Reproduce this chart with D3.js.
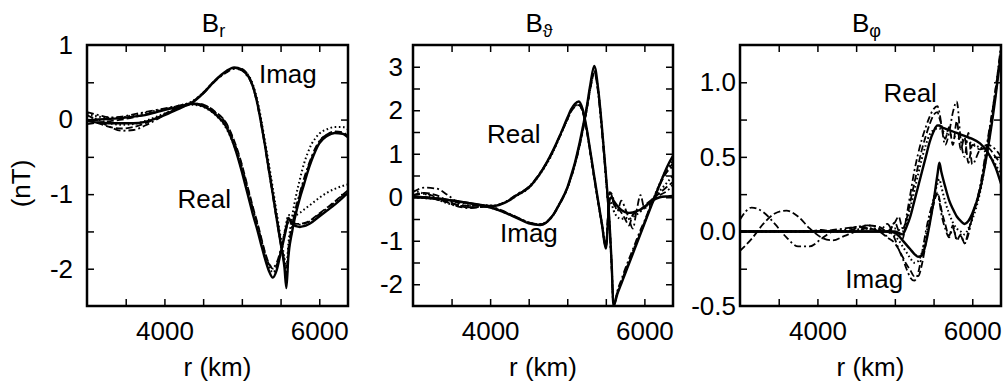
<!DOCTYPE html>
<html lang="en">
<head>
<meta charset="UTF-8">
<title>B components vs r</title>
<script src="https://d3js.org/d3.v7.min.js"></script>
<style>
  body { margin: 0; background: #fff; }
  svg text { font-family: "Liberation Sans", Arial, Helvetica, sans-serif; fill: #000; }
  .frame { fill: none; stroke: #000; stroke-width: 2.5px; }
  .curve { fill: none; stroke: #000; stroke-linejoin: round; }
  .tick line { stroke: #000; stroke-width: 1.5px; }
</style>
</head>
<body>
<div id="chart"></div>
<script>
// radius grid (km), shared by every curve
const rKm = [3000, 3150, 3300, 3450, 3600, 3750, 3900, 4050, 4200, 4350,
             4500, 4650, 4800, 4900, 5000, 5050, 5100, 5150, 5200, 5250,
             5300, 5350, 5400, 5450, 5500, 5550, 5575, 5600, 5650, 5700,
             5750, 5800, 5850, 5900, 5950, 6000, 6100, 6200, 6300, 6371];

// B_r
const brReSolid = [-0.02, -0.04, -0.05, -0.05, -0.05, -0.03, 0.02, 0.08, 0.15, 0.21,
  0.18, 0.08, -0.1, -0.35, -0.7, -0.9, -1.1, -1.3, -1.48, -1.68,
  -1.87, -2.03, -2.12, -2.02, -1.8, -1.57, -1.45, -1.32, -1.4, -1.43,
  -1.44, -1.43, -1.41, -1.38, -1.34, -1.3, -1.22, -1.14, -1.05, -0.98];
const brReDash = [0.0, -0.05, -0.1, -0.12, -0.1, -0.05, 0.02, 0.1, 0.17, 0.22,
  0.2, 0.11, -0.05, -0.28, -0.6, -0.8, -1.0, -1.2, -1.38, -1.58,
  -1.78, -1.93, -2.0, -1.95, -1.78, -1.55, -1.45, -1.38, -1.38, -1.4,
  -1.4, -1.39, -1.37, -1.34, -1.3, -1.26, -1.18, -1.1, -1.01, -0.95];
const brReDashDot = [0.06, -0.02, -0.1, -0.15, -0.14, -0.08, 0.0, 0.09, 0.17, 0.22,
  0.2, 0.1, -0.06, -0.3, -0.62, -0.82, -1.02, -1.22, -1.4, -1.6,
  -1.8, -1.94, -1.98, -1.92, -1.75, -1.52, -1.42, -1.35, -1.37, -1.4,
  -1.41, -1.4, -1.38, -1.35, -1.31, -1.27, -1.19, -1.11, -1.02, -0.96];
const brReDot = [0.05, 0.0, -0.05, -0.07, -0.06, -0.02, 0.04, 0.1, 0.16, 0.2,
  0.17, 0.07, -0.12, -0.35, -0.68, -0.88, -1.08, -1.27, -1.45, -1.64,
  -1.82, -1.97, -2.05, -1.98, -1.78, -1.52, -1.38, -1.28, -1.29, -1.28,
  -1.25, -1.21, -1.17, -1.13, -1.09, -1.05, -0.98, -0.93, -0.89, -0.87];
const brImSolid = [-0.01, 0.0, 0.01, 0.02, 0.04, 0.06, 0.1, 0.14, 0.17, 0.22,
  0.35, 0.52, 0.65, 0.7, 0.67, 0.62, 0.55, 0.42, 0.22, -0.05,
  -0.35, -0.68, -1.0, -1.33, -1.65, -1.98, -2.26, -1.85, -1.5, -1.25,
  -1.05, -0.88, -0.7, -0.55, -0.42, -0.32, -0.22, -0.18, -0.19, -0.24];
const brImDash = [-0.06, -0.04, -0.02, 0.0, 0.03, 0.07, 0.11, 0.15, 0.18, 0.23,
  0.36, 0.52, 0.64, 0.69, 0.68, 0.64, 0.56, 0.43, 0.23, -0.04,
  -0.34, -0.66, -0.98, -1.3, -1.62, -1.92, -2.15, -1.82, -1.47, -1.2,
  -1.0, -0.83, -0.66, -0.52, -0.4, -0.3, -0.2, -0.16, -0.17, -0.22];
const brImDashDot = [0.1, 0.06, 0.03, 0.04, 0.07, 0.1, 0.13, 0.16, 0.19, 0.23,
  0.35, 0.51, 0.63, 0.68, 0.66, 0.61, 0.54, 0.41, 0.2, -0.07,
  -0.37, -0.7, -1.02, -1.35, -1.66, -1.95, -2.1, -1.75, -1.42, -1.17,
  -0.98, -0.8, -0.64, -0.5, -0.38, -0.29, -0.2, -0.17, -0.18, -0.23];
const brImDot = [0.08, 0.04, 0.02, 0.03, 0.06, 0.09, 0.12, 0.15, 0.19, 0.24,
  0.36, 0.52, 0.64, 0.69, 0.67, 0.63, 0.57, 0.45, 0.26, 0.0,
  -0.3, -0.6, -0.92, -1.25, -1.57, -1.85, -2.0, -1.68, -1.3, -1.02,
  -0.8, -0.6, -0.45, -0.33, -0.25, -0.19, -0.13, -0.1, -0.1, -0.13];

// B_theta
const btReSolid = [0.02, 0.0, -0.03, -0.06, -0.1, -0.14, -0.18, -0.2, -0.12, 0.05,
  0.22, 0.55, 1.02, 1.4, 1.82, 2.02, 2.15, 2.2, 2.02, 1.6,
  1.05, 0.48, -0.08, -0.62, -1.18, -0.05, 0.0, -0.08, -0.2, -0.29,
  -0.34, -0.36, -0.35, -0.32, -0.28, -0.22, -0.08, 0.0, 0.02, 0.03];
const btReDash = [0.05, 0.1, 0.05, -0.08, -0.2, -0.24, -0.22, -0.2, -0.11, 0.06,
  0.23, 0.56, 1.0, 1.38, 1.78, 1.97, 2.08, 2.12, 1.96, 1.55,
  1.0, 0.42, -0.12, -0.65, -1.15, 0.1, 0.05, -0.15, -0.25, -0.35,
  -0.5, -0.65, -0.4, -0.35, -0.3, -0.2, -0.05, 0.1, 0.25, 0.35];
const btReDashDot = [0.12, 0.22, 0.2, 0.05, -0.15, -0.23, -0.22, -0.2, -0.1, 0.07,
  0.24, 0.57, 1.02, 1.4, 1.8, 2.0, 2.1, 2.12, 1.98, 1.58,
  1.02, 0.45, -0.1, -0.62, -1.12, 0.12, 0.08, -0.05, -0.32, -0.08,
  -0.25, -0.5, -0.72, -0.3, 0.05, -0.25, -0.12, 0.05, 0.15, 0.3];
const btReDot = [0.15, 0.08, -0.04, -0.14, -0.2, -0.19, -0.18, -0.19, -0.11, 0.04,
  0.21, 0.54, 0.98, 1.38, 1.78, 1.98, 2.1, 2.14, 1.98, 1.57,
  1.02, 0.45, -0.1, -0.6, -1.1, -0.1, -0.15, -0.3, -0.45, -0.5,
  -0.47, -0.5, -0.45, -0.4, -0.33, -0.25, -0.05, 0.15, 0.35, 0.5];
const btImSolid = [0.0, -0.01, -0.03, -0.06, -0.1, -0.14, -0.19, -0.26, -0.36, -0.48,
  -0.6, -0.64, -0.45, -0.15, 0.22, 0.5, 0.8, 1.17, 1.6, 2.05,
  2.6, 3.02, 2.5, 1.6, 0.55, -0.65, -1.5, -2.5, -2.22, -1.99,
  -1.76, -1.53, -1.3, -1.07, -0.84, -0.61, -0.15, 0.3, 0.72, 0.95];
const btImDash = [0.02, 0.0, -0.05, -0.12, -0.18, -0.2, -0.2, -0.25, -0.35, -0.47,
  -0.58, -0.62, -0.44, -0.15, 0.2, 0.45, 0.75, 1.1, 1.52, 1.98,
  2.5, 2.85, 2.45, 1.55, 0.5, -0.7, -1.55, -2.5, -2.2, -1.96,
  -1.72, -1.5, -1.27, -1.04, -0.82, -0.6, -0.12, 0.28, 0.62, 0.78];
const btImDashDot = [0.05, 0.08, 0.0, -0.12, -0.22, -0.25, -0.22, -0.24, -0.34, -0.46,
  -0.58, -0.63, -0.46, -0.17, 0.2, 0.45, 0.75, 1.1, 1.52, 1.98,
  2.5, 2.88, 2.4, 1.5, 0.45, -0.72, -1.6, -2.5, -2.15, -1.9,
  -1.65, -1.42, -1.2, -0.97, -0.75, -0.55, -0.1, 0.3, 0.6, 0.7];
const btImDot = [0.0, -0.02, -0.04, -0.08, -0.12, -0.16, -0.2, -0.26, -0.36, -0.47,
  -0.58, -0.62, -0.45, -0.15, 0.21, 0.47, 0.77, 1.14, 1.57, 2.02,
  2.55, 2.9, 2.48, 1.58, 0.52, -0.68, -1.52, -2.45, -2.18, -1.95,
  -1.72, -1.48, -1.25, -1.02, -0.8, -0.58, -0.12, 0.32, 0.68, 0.85];

// B_phi
const bpReSolid = [0, 0, 0, 0, 0, 0, 0, 0, 0, 0,
  0, 0, 0, 0, 0.0, -0.01, -0.02, 0.03, 0.1, 0.2,
  0.3, 0.4, 0.5, 0.6, 0.67, 0.71, 0.71, 0.7, 0.69, 0.68,
  0.67, 0.66, 0.65, 0.64, 0.63, 0.62, 0.59, 0.53, 0.43, 0.32];
const bpReDash = [0.0, 0.0, 0.0, 0.0, 0.0, 0.0, 0.0, 0.01, 0.0, 0.0,
  0.02, 0.04, 0.03, 0.0, 0.06, 0.1, 0.02, 0.08, 0.2, 0.32,
  0.44, 0.55, 0.64, 0.72, 0.78, 0.8, 0.76, 0.72, 0.62, 0.7,
  0.58, 0.74, 0.55, 0.63, 0.46, 0.58, 0.55, 0.56, 0.5, 0.45];
const bpReDashDot = [0.08, 0.16, 0.13, 0.05, -0.04, -0.1, -0.1, -0.05, 0.0, 0.01,
  0.03, 0.04, 0.02, -0.03, 0.06, 0.0, -0.05, 0.1, 0.25, 0.4,
  0.52, 0.62, 0.7, 0.77, 0.82, 0.84, 0.8, 0.72, 0.58, 0.66,
  0.8, 0.87, 0.62, 0.5, 0.66, 0.45, 0.55, 0.58, 0.55, 0.5];
const bpReDot = [0.0, 0.0, 0.0, 0.0, 0.0, 0.0, 0.0, 0.0, 0.0, 0.0,
  0.01, 0.02, 0.01, 0.0, 0.02, 0.01, 0.0, 0.06, 0.16, 0.27,
  0.38, 0.49, 0.58, 0.65, 0.68, 0.69, 0.69, 0.68, 0.66, 0.65,
  0.64, 0.63, 0.62, 0.61, 0.6, 0.59, 0.56, 0.52, 0.45, 0.38];
const bpImSolid = [0, 0, 0, 0, 0, 0, 0, 0, 0, 0,
  0, 0, 0, 0, -0.01, -0.03, -0.06, -0.09, -0.12, -0.15,
  -0.17, -0.16, -0.08, 0.05, 0.2, 0.38, 0.46, 0.4, 0.3, 0.21,
  0.15, 0.1, 0.07, 0.05, 0.07, 0.12, 0.28, 0.55, 0.9, 1.2];
const bpImDash = [-0.13, -0.05, 0.05, 0.12, 0.14, 0.1, 0.02, -0.04, -0.06, -0.03,
  0.0, 0.02, 0.0, -0.04, -0.08, -0.12, -0.17, -0.22, -0.26, -0.3,
  -0.3, -0.22, -0.08, 0.06, 0.18, 0.26, 0.22, 0.15, 0.05, -0.03,
  0.04, -0.06, -0.02, -0.08, 0.0, 0.1, 0.28, 0.6, 0.95, 1.22];
const bpImDashDot = [0.0, 0.0, 0.0, 0.0, 0.0, 0.0, 0.0, 0.0, 0.01, 0.02,
  0.03, 0.02, 0.0, 0.05, -0.05, -0.12, -0.18, -0.25, -0.31, -0.33,
  -0.28, -0.15, 0.0, 0.12, 0.2, 0.25, 0.2, 0.12, 0.02, -0.04,
  0.02, -0.05, -0.03, -0.08, -0.02, 0.1, 0.3, 0.62, 0.95, 1.25];
const bpImDot = [0.0, 0.0, 0.0, 0.0, 0.0, 0.0, 0.0, 0.0, 0.0, 0.0,
  0.01, 0.02, 0.01, 0.0, -0.03, -0.06, -0.1, -0.14, -0.18, -0.21,
  -0.2, -0.14, -0.03, 0.1, 0.22, 0.32, 0.35, 0.3, 0.2, 0.12,
  0.06, 0.02, 0.0, -0.02, 0.02, 0.08, 0.26, 0.56, 0.92, 1.2];

// tick labels
const xTickLabels = [4000, 6000];
const brTickLabels = [-2, -1, 0, 1];
const btTickLabels = [-2, -1, 0, 1, 2, 3];
const bpTickLabels = [-0.5, 0.0, 0.5, 1.0];

// in-plot annotations: [text, r, value]
const brNotes = [["Imag", 5221, 0.49], ["Real", 4169, -1.18]];
const btNotes = [["Real", 3960, 1.24], ["Imag", 4128, -1.04]];
const bpNotes = [["Real", 4852, 0.87], ["Imag", 4360, -0.38]];

const lineStyles = {
  solid:   { width: 2.4, dash: null },
  dash:    { width: 1.8, dash: "7,3" },
  dashdot: { width: 1.8, dash: "7,3,2,3" },
  dot:     { width: 2, dash: "1.6,2.6" }
};

const panels = [
  { sub: "r", x0: 87, x1: 348, yDomain: [-2.5, 1], minor: 0.5, labels: brTickLabels, fmt: d => String(d), gap: 14, notes: brNotes,
    curves: [["dot", brReDot], ["dashdot", brReDashDot], ["dash", brReDash], ["solid", brReSolid],
             ["dot", brImDot], ["dashdot", brImDashDot], ["dash", brImDash], ["solid", brImSolid]] },
  { sub: "\u03D1", x0: 413, x1: 673, yDomain: [-2.5, 3.5], minor: 0.5, labels: btTickLabels, fmt: d => String(d), gap: 10, notes: btNotes,
    curves: [["dot", btReDot], ["dashdot", btReDashDot], ["dash", btReDash], ["solid", btReSolid],
             ["dot", btImDot], ["dashdot", btImDashDot], ["dash", btImDash], ["solid", btImSolid]] },
  { sub: "\u03C6", x0: 740, x1: 1001, yDomain: [-0.5, 1.25], minor: 0.25, labels: bpTickLabels, fmt: d => d.toFixed(1), gap: 4, notes: bpNotes,
    curves: [["dot", bpReDot], ["dashdot", bpReDashDot], ["dash", bpReDash], ["solid", bpReSolid],
             ["dot", bpImDot], ["dashdot", bpImDashDot], ["dash", bpImDash], ["solid", bpImSolid]] }
];

const width = 1005, height = 387;
const plotTop = 45, plotBottom = 306;
const fontSize = 26;

const svg = d3.select("#chart").append("svg")
  .attr("width", width)
  .attr("height", height);

svg.append("text")
  .attr("transform", `translate(30,${(plotTop + plotBottom) / 2 + 8}) rotate(-90)`)
  .attr("text-anchor", "middle")
  .style("font-size", fontSize + "px")
  .text("(nT)");

panels.forEach((p, i) => {
  const x = d3.scaleLinear().domain([3000, 6371]).range([p.x0, p.x1]);
  const y = d3.scaleLinear().domain(p.yDomain).range([plotBottom, plotTop]);
  const g = svg.append("g");

  const clipId = "clip" + i;
  svg.append("clipPath").attr("id", clipId)
    .append("rect")
    .attr("x", p.x0).attr("y", plotTop)
    .attr("width", p.x1 - p.x0).attr("height", plotBottom - plotTop);

  const line = d3.line()
    .x((d, j) => x(rKm[j]))
    .y(d => y(d))
    .curve(d3.curveMonotoneX);

  g.append("g").attr("clip-path", `url(#${clipId})`)
    .selectAll("path")
    .data(p.curves)
    .enter().append("path")
    .attr("class", "curve")
    .attr("d", d => line(d[1]))
    .attr("stroke-width", d => lineStyles[d[0]].width)
    .attr("stroke-dasharray", d => lineStyles[d[0]].dash);

  // inward tick marks on all four sides
  const xMinor = d3.range(3500, 6371, 500);
  const yMinor = d3.range(p.yDomain[0] + p.minor, p.yDomain[1] - 1e-9, p.minor);
  const markAxes = [
    [d3.axisBottom(x).tickValues(xMinor), `translate(0,${plotBottom})`],
    [d3.axisTop(x).tickValues(xMinor), `translate(0,${plotTop})`],
    [d3.axisLeft(y).tickValues(yMinor), `translate(${p.x0},0)`],
    [d3.axisRight(y).tickValues(yMinor), `translate(${p.x1},0)`]
  ];
  markAxes.forEach(([ax, tr]) => {
    const a = g.append("g").attr("transform", tr)
      .call(ax.tickSize(-7).tickFormat(""));
    a.select(".domain").remove();
  });

  // tick labels
  const xl = g.append("g").attr("transform", `translate(0,${plotBottom})`)
    .call(d3.axisBottom(x).tickValues(xTickLabels).tickSize(0).tickPadding(16).tickFormat(d => String(d)));
  xl.select(".domain").remove();
  const yl = g.append("g").attr("transform", `translate(${p.x0},0)`)
    .call(d3.axisLeft(y).tickValues(p.labels).tickSize(0).tickPadding(p.gap).tickFormat(p.fmt));
  yl.select(".domain").remove();
  g.selectAll(".tick text")
    .attr("fill", "#000")
    .style("font-size", fontSize + "px")
    .style("font-family", "\"Liberation Sans\", Arial, Helvetica, sans-serif");

  g.append("rect")
    .attr("class", "frame")
    .attr("x", p.x0).attr("y", plotTop)
    .attr("width", p.x1 - p.x0).attr("height", plotBottom - plotTop);

  // panel title with subscript
  const cx = (p.x0 + p.x1) / 2;
  const t = g.append("text")
    .attr("x", cx - 4).attr("y", 32)
    .attr("text-anchor", "middle")
    .style("font-size", "26px");
  t.append("tspan").text("B");
  t.append("tspan").attr("dy", 5).style("font-size", "18px").text(p.sub);

  g.append("text")
    .attr("x", cx).attr("y", 376)
    .attr("text-anchor", "middle")
    .style("font-size", fontSize + "px")
    .text("r (km)");

  g.selectAll(".note")
    .data(p.notes)
    .enter().append("text")
    .attr("class", "note")
    .attr("x", d => x(d[1]))
    .attr("y", d => y(d[2]))
    .style("font-size", fontSize + "px")
    .text(d => d[0]);
});
</script>
</body>
</html>
